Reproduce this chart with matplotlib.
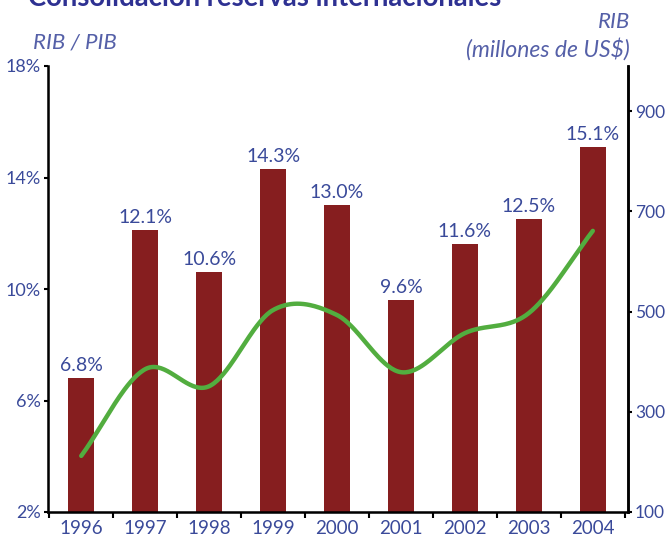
import numpy as np
import matplotlib
matplotlib.use("Agg")
import matplotlib.pyplot as plt

years = ["1996", "1997", "1998", "1999", "2000", "2001", "2002", "2003", "2004"]
rib_pib = [6.8, 12.1, 10.6, 14.3, 13.0, 9.6, 11.6, 12.5, 15.1]
rib_musd = [212, 385, 351, 503, 493, 379, 457, 497, 661]
left_ticks = [2, 6, 10, 14, 18]
right_ticks = [100, 300, 500, 700, 900]

BLUE = "#3a4a9a"
LBLUE = "#5560a8"
TITLE = "#2e3192"
RED = "#861e1f"
GREEN = "#52ad3f"
FONT = "Lato"

def catmull_rom(xs, ys, n=40):
    xs = np.asarray(xs, float); ys = np.asarray(ys, float)
    m = np.zeros_like(ys)
    m[1:-1] = (ys[2:] - ys[:-2]) / (xs[2:] - xs[:-2])
    m[0] = ys[1] - ys[0]
    m[-1] = ys[-1] - ys[-2]
    outx, outy = [], []
    for i in range(len(xs) - 1):
        t = np.linspace(0, 1, n, endpoint=(i == len(xs) - 2))
        h = xs[i + 1] - xs[i]
        h00 = 2*t**3 - 3*t**2 + 1
        h10 = t**3 - 2*t**2 + t
        h01 = -2*t**3 + 3*t**2
        h11 = t**3 - t**2
        outx.append(xs[i] + t*h)
        outy.append(h00*ys[i] + h10*h*m[i] + h01*ys[i+1] + h11*h*m[i+1])
    return np.concatenate(outx), np.concatenate(outy)

W, H = 666, 536
fig = plt.figure(figsize=(W/100, H/100), dpi=100)
ax = fig.add_axes([48/W, 1 - 512/H, 580/W, 446/H])
x = np.arange(len(years))
ax.bar(x, np.array(rib_pib) - 2, bottom=2, width=0.41, color=RED, zorder=2)
for xi, v in zip(x, rib_pib):
    ax.text(xi, v + 0.15, f"{v:.1f}%", ha="center", va="bottom", color=BLUE,
            fontsize=14, family=FONT)
ax.set_xlim(-0.52, 8.55)
ax.set_ylim(2, 18)
ax.set_yticks(left_ticks)
ax.set_yticklabels([f"{t}%" for t in left_ticks])
ax.set_xticks(x)
ax.set_xticklabels(years)
ax.set_xticks(np.arange(-0.5, 8.6, 1), minor=True)
ax.tick_params(axis="x", which="major", length=0, pad=6, labelsize=13.5, labelcolor=BLUE)
ax.tick_params(axis="x", which="minor", length=4, width=1.5, direction="out")
ax.tick_params(axis="y", length=3, width=1.5, pad=2, labelsize=13, labelcolor=BLUE)
for lab in ax.get_xticklabels() + ax.get_yticklabels():
    lab.set_family(FONT)
ax.spines["top"].set_visible(False)
for s in ["left", "right", "bottom"]:
    ax.spines[s].set_linewidth(1.8)

ax2 = ax.twinx()
ax2.set_ylim(100, 990)
ax2.set_yticks(right_ticks)
ax2.tick_params(axis="y", length=3, width=1.5, pad=2, labelsize=12.5, labelcolor=BLUE)
for lab in ax2.get_yticklabels():
    lab.set_family(FONT)
ax2.spines["top"].set_visible(False)
ax2.spines["right"].set_linewidth(1.8)
sx, sy = catmull_rom(x, rib_musd)
ax2.plot(sx, sy, color=GREEN, lw=3.2, solid_capstyle="round", zorder=3)

fig.text(28/W, 1 - 6/H, "Consolidación reservas internacionales", ha="left", va="baseline",
         fontsize=19.8, fontweight="bold", color=TITLE, family=FONT)
fig.text(33/W, 1 - 48/H, "RIB / PIB", ha="left", va="baseline", fontsize=16,
         style="italic", color=LBLUE, family=FONT)
fig.text(630/W, 1 - 28/H, "RIB", ha="right", va="baseline", fontsize=16,
         style="italic", color=LBLUE, family=FONT)
fig.text(630/W, 1 - 57/H, "(millones de US$)", ha="right", va="baseline", fontsize=16.5,
         style="italic", color=LBLUE, family=FONT)

fig.savefig("out.png", dpi=100)
